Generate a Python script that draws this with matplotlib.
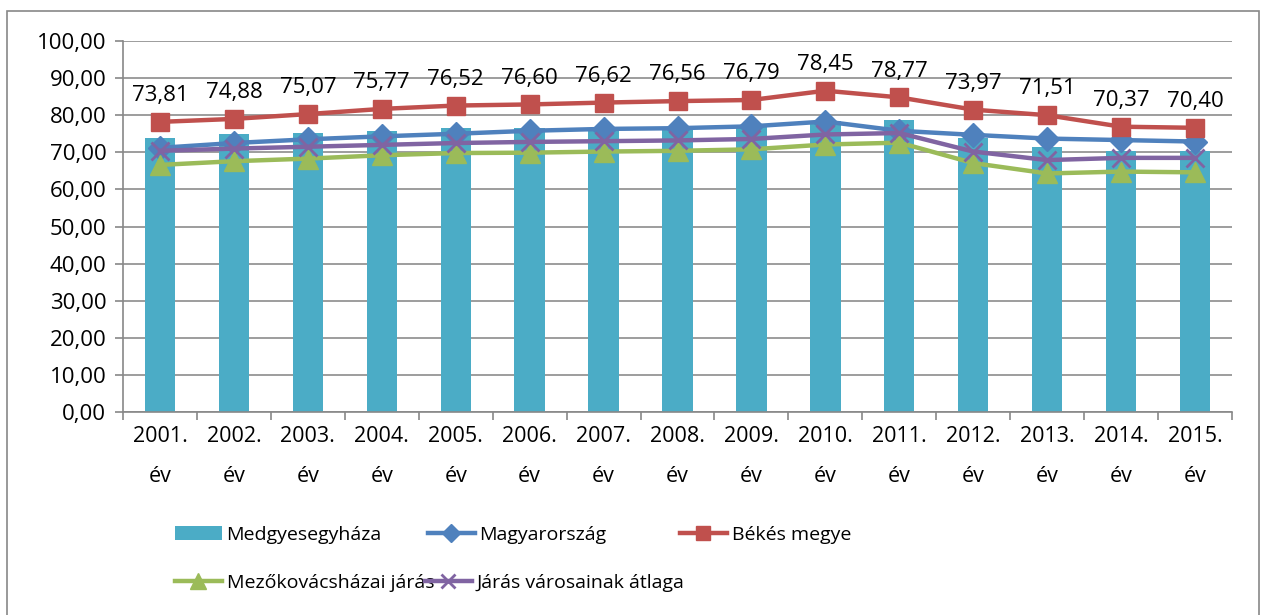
import matplotlib.pyplot as plt
import numpy as np
from matplotlib.patches import Rectangle

years = ["2001.\név", "2002.\név", "2003.\név", "2004.\név", "2005.\név",
         "2006.\név", "2007.\név", "2008.\név", "2009.\név", "2010.\név",
         "2011.\név", "2012.\név", "2013.\név", "2014.\név", "2015.\név"]

medgyesegyhaza = [73.81, 74.88, 75.07, 75.77, 76.52, 76.60, 76.62, 76.56,
                  76.79, 78.45, 78.77, 73.97, 71.51, 70.37, 70.40]
magyarorszag = [71.2, 72.5, 73.5, 74.3, 75.0, 75.8, 76.3, 76.5, 77.0, 78.3,
                75.8, 74.7, 73.7, 73.3, 72.9]
bekes = [78.2, 79.0, 80.3, 81.7, 82.6, 82.9, 83.4, 83.8, 84.1, 86.6,
         84.8, 81.5, 80.0, 76.9, 76.6]
mezokovacshazai = [66.6, 67.6, 68.3, 69.2, 69.8, 69.9, 70.2, 70.4, 70.8, 72.1,
                   72.6, 67.1, 64.3, 64.8, 64.6]
jaras_varosai = [70.4, 71.0, 71.5, 72.0, 72.5, 72.8, 73.0, 73.2, 73.6, 74.8,
                 75.2, 70.2, 67.9, 68.5, 68.5]

plt.rcParams["font.family"] = ["Open Sans", "DejaVu Sans"]

fig = plt.figure(figsize=(12.61, 6.15), dpi=100)
ax = fig.add_axes([123 / 1261, 1 - 412 / 615, 1109 / 1261, 371 / 615])

x = np.arange(len(years))
h_bar = ax.bar(x, medgyesegyhaza, width=0.41, color="#4BACC6", label="Medgyesegyháza", zorder=2)
h_magy, = ax.plot(x, magyarorszag, color="#4F81BD", lw=3.2, marker="D", ms=12,
                  label="Magyarország", zorder=3)
h_bekes, = ax.plot(x, bekes, color="#C0504D", lw=3.2, marker="s", ms=13,
                   label="Békés megye", zorder=3)
h_mezo, = ax.plot(x, mezokovacshazai, color="#9BBB59", lw=3.2, marker="^", ms=14,
                  label="Mezőkovácsházai járás", zorder=3)
h_jaras, = ax.plot(x, jaras_varosai, color="#8064A2", lw=3.2, marker="x", ms=13, mew=2,
                   label="Járás városainak átlaga", zorder=3)

for xi, b, v in zip(x, bekes, medgyesegyhaza):
    ax.annotate(f"{v:.2f}".replace(".", ","), (xi, b), xytext=(0, 19),
                textcoords="offset points", ha="center", va="center", fontsize=16)

ax.set_xlim(-0.5, len(years) - 0.5)
ax.set_ylim(0, 100)
ax.set_yticks(np.arange(0, 101, 10))
ax.set_yticklabels([f"{v:.2f}".replace(".", ",") for v in np.arange(0, 101, 10)], fontsize=16)
ax.set_xticks(x)
ax.set_xticklabels(years, fontsize=15.5, linespacing=2.2)
ax.set_xticks(np.arange(-0.5, len(years), 1), minor=True)
ax.tick_params(axis="x", which="major", length=0, pad=10)
ax.tick_params(axis="x", which="minor", length=6, color="#888888", width=1.2)
ax.tick_params(axis="y", length=6, color="#888888", width=1.2, pad=6)
ax.grid(axis="y", color="#8c8c8c", lw=1.2, zorder=0)
ax.set_axisbelow(True)
for s in ["top", "right"]:
    ax.spines[s].set_visible(False)
for s in ["left", "bottom"]:
    ax.spines[s].set_color("#888888")
    ax.spines[s].set_linewidth(1.2)

# legend laid out like Excel: each entry at its own place
entries = [(h_bar, 175, 535), (h_magy, 428, 535), (h_bekes, 680, 535),
           (h_mezo, 175, 583), (h_jaras, 425, 583)]
for h, px, py in entries:
    fig.legend(handles=[h], loc="center left", bbox_to_anchor=(px / 1261, 1 - py / 615),
               frameon=False, fontsize=14, handlelength=2.4, handletextpad=0.25,
               borderpad=0, borderaxespad=0, markerscale=0.8)

fig.patches.append(Rectangle((7 / 1261, -0.01), 1252 / 1261, 1 - 11 / 615 + 0.01,
                             transform=fig.transFigure, fill=False,
                             edgecolor="#888888", lw=1.2))

fig.savefig("out.png", dpi=100)
